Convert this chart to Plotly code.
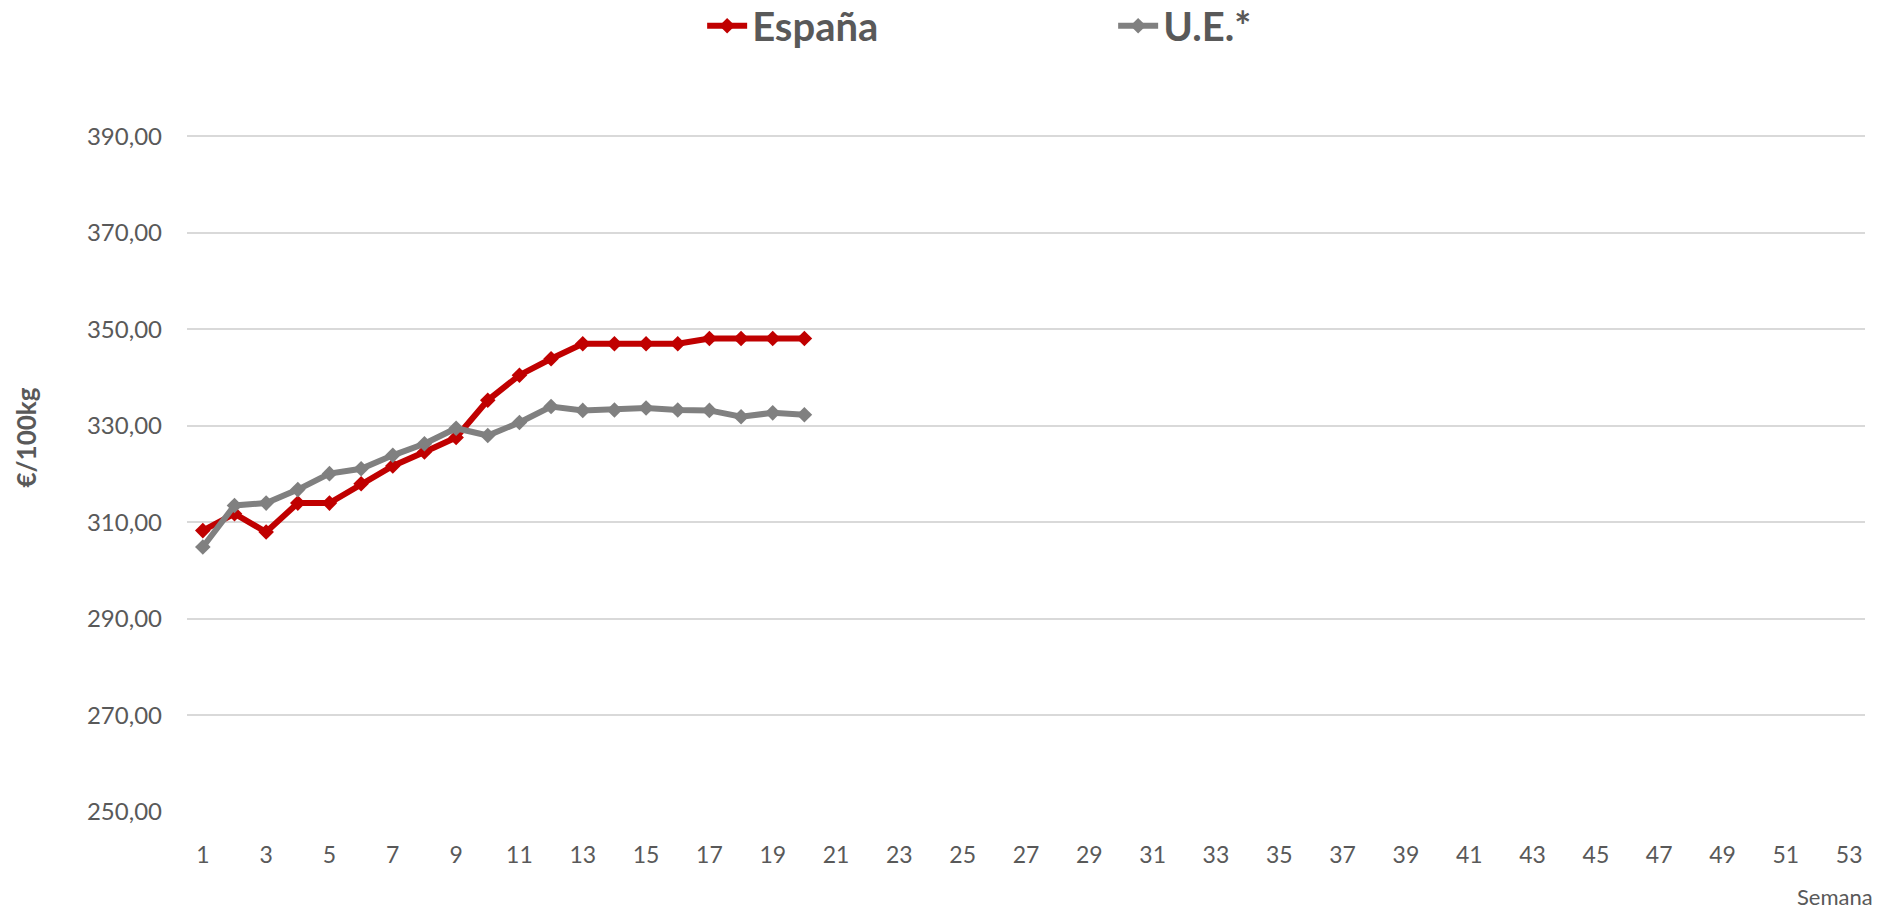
import plotly.graph_objects as go

semanas = list(range(1, 21))
espana = [308.3, 311.8, 308.0, 314.0, 314.0, 318.0, 321.7, 324.6, 327.6, 335.3,
          340.5, 343.9, 347.0, 347.0, 347.0, 347.0, 348.1, 348.1, 348.1, 348.1]
ue = [304.9, 313.5, 314.0, 316.8, 320.1, 321.1, 323.9, 326.3, 329.5, 328.0,
      330.7, 334.0, 333.2, 333.3, 333.7, 333.3, 333.2, 331.9, 332.7, 332.3]
x_ticks = list(range(1, 54, 2))
y_ticks = [250, 270, 290, 310, 330, 350, 370, 390]

FONT = "Lato"
GREY_TXT = "#595959"

fig = go.Figure()
fig.add_trace(go.Scatter(
    x=semanas, y=espana, name="España", mode="lines+markers",
    line=dict(color="#C00000", width=6),
    marker=dict(symbol="diamond", size=12, color="#C00000"),
))
fig.add_trace(go.Scatter(
    x=semanas, y=ue, name="U.E.*", mode="lines+markers",
    line=dict(color="#808080", width=6),
    marker=dict(symbol="diamond", size=12, color="#808080"),
))

fig.update_layout(
    width=1896, height=909,
    paper_bgcolor="white", plot_bgcolor="white",
    margin=dict(l=187, r=31, t=88, b=97, autoexpand=False),
    font=dict(family=FONT, color=GREY_TXT),
    legend=dict(
        orientation="h", x=0.307, y=1.086, xanchor="left", yanchor="middle",
        font=dict(family=FONT, size=40, color=GREY_TXT, weight="bold"),
        entrywidth=356, entrywidthmode="pixels",
        itemwidth=40, bgcolor="rgba(0,0,0,0)",
    ),
    xaxis=dict(
        range=[0.5, 53.5], tickmode="array", tickvals=x_ticks,
        ticktext=[str(v) for v in x_ticks],
        showgrid=False, zeroline=False, showline=False,
        tickfont=dict(family=FONT, size=23, color=GREY_TXT),
        ticks="", ticklabelstandoff=27,
    ),
    yaxis=dict(
        range=[250, 400], tickmode="array", tickvals=y_ticks,
        ticktext=[f"{v},00" for v in y_ticks],
        showgrid=True, gridcolor="#D9D9D9", gridwidth=1.5,
        zeroline=False, showline=False,
        tickfont=dict(family=FONT, size=24, color=GREY_TXT),
        ticks="", ticklabelstandoff=24,
    ),
    annotations=[
        dict(text="Semana", xref="paper", yref="paper", x=1.006, y=-0.117,
             xanchor="right", yanchor="middle", showarrow=False,
             font=dict(family=FONT, size=22, color=GREY_TXT)),
        dict(text="<b>€/100kg</b>", xref="paper", yref="paper", x=-0.096, y=0.517,
             xanchor="center", yanchor="middle", showarrow=False, textangle=-90,
             font=dict(family=FONT, size=26, color=GREY_TXT)),
    ],
)

fig.write_html(
    "out.html",
    config={"displayModeBar": False},
    post_script="document.body.style.margin='0';document.body.style.overflow='hidden';",
)
